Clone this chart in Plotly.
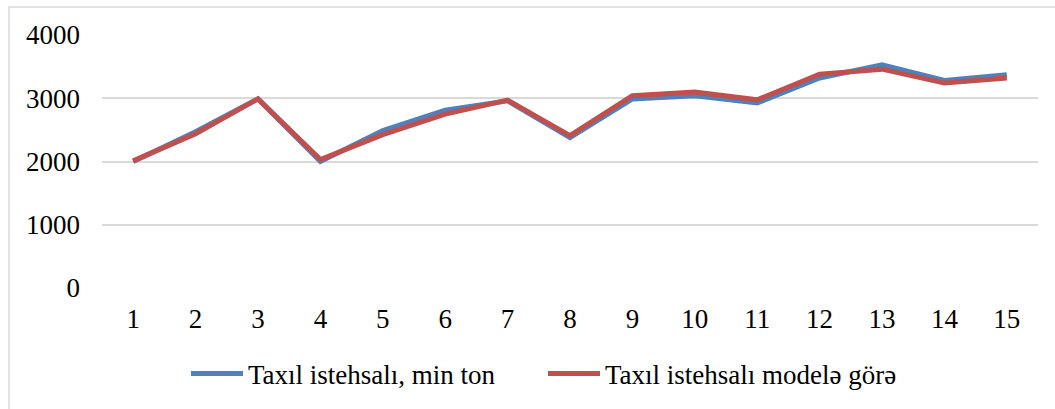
import plotly.graph_objects as go

categories = [str(i) for i in range(1, 16)]
actual = [2000, 2470, 2990, 2000, 2490, 2810, 2960, 2380, 2990, 3040, 2925, 3320, 3530, 3280, 3370]
model = [2010, 2440, 2990, 2030, 2425, 2750, 2970, 2410, 3040, 3100, 2975, 3380, 3460, 3240, 3320]
series_names = ["Taxıl istehsalı, min ton", "Taxıl istehsalı modelə görə"]
y_ticks = [0, 1000, 2000, 3000, 4000]

W, H = 1055, 409
L, R, T, B = 102, 17, 35, 120
pw, ph = W - L - R, H - T - B

font = dict(family="'Liberation Serif', 'Times New Roman', 'DejaVu Serif', serif", size=27, color="#000000")

fig = go.Figure()
fig.add_trace(go.Scatter(x=categories, y=actual, name=series_names[0], mode="lines",
                         line=dict(color="#4F81BD", width=5)))
fig.add_trace(go.Scatter(x=categories, y=model, name=series_names[1], mode="lines",
                         line=dict(color="#C0504D", width=5)))

fig.update_layout(
    width=W, height=H,
    margin=dict(l=L, r=R, t=T, b=B),
    paper_bgcolor="white", plot_bgcolor="white",
    font=font,
    showlegend=True,
    legend=dict(orientation="h", x=(186 - L) / pw, xanchor="left", y=(289 - 374) / ph, yanchor="middle",
                font=font, itemwidth=52, entrywidth=290, entrywidthmode="pixels",
                bgcolor="rgba(0,0,0,0)"),
    xaxis=dict(type="category", range=[-0.5, 14.5], showgrid=False, showline=False,
               zeroline=False, ticks="", ticklabelstandoff=12, tickfont=font),
    yaxis=dict(range=[0, 4000], tickvals=y_ticks, showgrid=True, gridcolor="#D9D9D9", gridwidth=1.5,
               zeroline=False, showline=False, ticks="", ticklabelstandoff=21, tickfont=font),
    shapes=[dict(type="rect", xref="paper", yref="paper",
                 x0=(9 - L) / pw, x1=(W + 20 - L) / pw,
                 y0=(289 - (H + 20)) / ph, y1=(289 - 7) / ph,
                 line=dict(color="#D9D9D9", width=1.5), fillcolor="rgba(0,0,0,0)", layer="below")],
)

fig.write_html("out.html", config={"displayModeBar": False},
               post_script="document.body.style.margin='0px';")
